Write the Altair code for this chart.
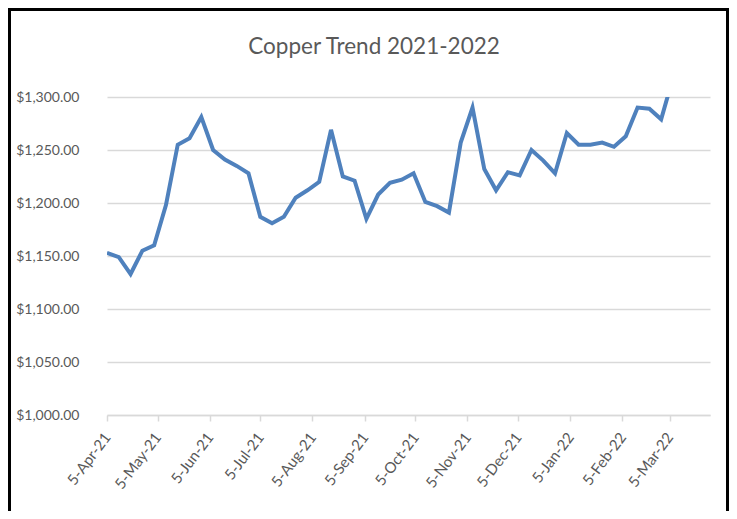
import altair as alt
import pandas as pd

# ---- data (weekly copper prices) ----
dates = [
    "2021-04-05", "2021-04-12", "2021-04-19", "2021-04-26",
    "2021-05-03", "2021-05-10", "2021-05-17", "2021-05-24", "2021-05-31",
    "2021-06-07", "2021-06-14", "2021-06-21", "2021-06-28",
    "2021-07-05", "2021-07-12", "2021-07-19", "2021-07-26",
    "2021-08-02", "2021-08-09", "2021-08-16", "2021-08-23", "2021-08-30",
    "2021-09-06", "2021-09-13", "2021-09-20", "2021-09-27",
    "2021-10-04", "2021-10-11", "2021-10-18", "2021-10-25",
    "2021-11-01", "2021-11-08", "2021-11-15", "2021-11-22", "2021-11-29",
    "2021-12-06", "2021-12-13", "2021-12-20", "2021-12-27",
    "2022-01-03", "2022-01-10", "2022-01-17", "2022-01-24", "2022-01-31",
    "2022-02-07", "2022-02-14", "2022-02-21", "2022-02-28",
    "2022-03-07",
]
prices = [
    1153, 1149, 1133, 1155,
    1160, 1198, 1255, 1261, 1281,
    1250, 1241, 1235, 1228,
    1187, 1181, 1187, 1205,
    1212, 1220, 1269, 1225, 1221,
    1185, 1208, 1219, 1222,
    1228, 1201, 1197, 1191,
    1257, 1290, 1232, 1212, 1229,
    1226, 1250, 1240, 1228,
    1266, 1255, 1255, 1257, 1253,
    1263, 1290, 1289, 1279,
    1318,
]
tick_months = [(2021, 4), (2021, 5), (2021, 6), (2021, 7), (2021, 8), (2021, 9),
               (2021, 10), (2021, 11), (2021, 12), (2022, 1), (2022, 2), (2022, 3)]
y_ticks = [1000, 1050, 1100, 1150, 1200, 1250, 1300]
title_text = "Copper Trend 2021-2022"

df = pd.DataFrame({"date": dates, "price": prices})
df_title = pd.DataFrame({"t": [title_text]})
df_frame = pd.DataFrame({"a": [0]})

# ---- layout ----
W, H = 603, 318
PL, PT, PR, PB = 99, 89, 19, 96
FONT = "Lato"
TXT = "#595959"
GRID = "#D9D9D9"

x_enc = alt.X(
    "date:T",
    title=None,
    scale=alt.Scale(
        type="utc",
        domain=[alt.DateTime(year=2021, month=4, date=5, utc=True),
                alt.DateTime(year=2022, month=3, date=29, utc=True)],
    ),
    axis=alt.Axis(
        values=[alt.DateTime(year=y, month=m, date=5, utc=True) for y, m in tick_months],
        labelExpr="utcFormat(datum.value, '%-d-%b-%y')",
        labelAngle=-53,
        labelAlign="right",
        labelBaseline="middle",
        labelPadding=13,
        labelFont=FONT,
        labelFontSize=15,
        labelColor=TXT,
        grid=False,
        domainColor=GRID,
        domainWidth=1.5,
        tickColor=GRID,
        tickWidth=1.5,
        tickSize=6,
        labelOverlap=False,
    ),
)
y_enc = alt.Y(
    "price:Q",
    title=None,
    scale=alt.Scale(domain=[1000, 1300], nice=False, zero=False),
    axis=alt.Axis(
        values=y_ticks,
        format="$,.2f",
        labelFont=FONT,
        labelFontSize=14,
        labelColor=TXT,
        labelPadding=28,
        ticks=False,
        tickSize=0,
        domain=False,
        grid=True,
        gridColor=GRID,
        gridWidth=1.5,
    ),
)

line = alt.Chart(df).mark_line(
    color="#4F81BD", strokeWidth=4, clip=True, strokeJoin="miter"
).encode(x=x_enc, y=y_enc)

title = alt.Chart(df_title).mark_text(
    font=FONT, fontSize=22.5, color=TXT, align="center", baseline="middle"
).encode(x=alt.value(267), y=alt.value(-50), text="t:N")

frame = alt.Chart(df_frame).mark_rect(
    fillOpacity=0, stroke="black", strokeWidth=3
).encode(
    x=alt.value(-PL + 1.5), x2=alt.value(W + PR - 1.5),
    y=alt.value(-PT + 1.5), y2=alt.value(H + PB + 20),
)

chart = alt.layer(line, title, frame).properties(
    width=W,
    height=H,
    autosize=alt.AutoSizeParams(type="none"),
    padding={"left": PL, "top": PT, "right": PR, "bottom": PB},
    background="white",
).configure_view(stroke=None)

chart.save("out.html", embed_options={"renderer": "svg", "actions": False})
